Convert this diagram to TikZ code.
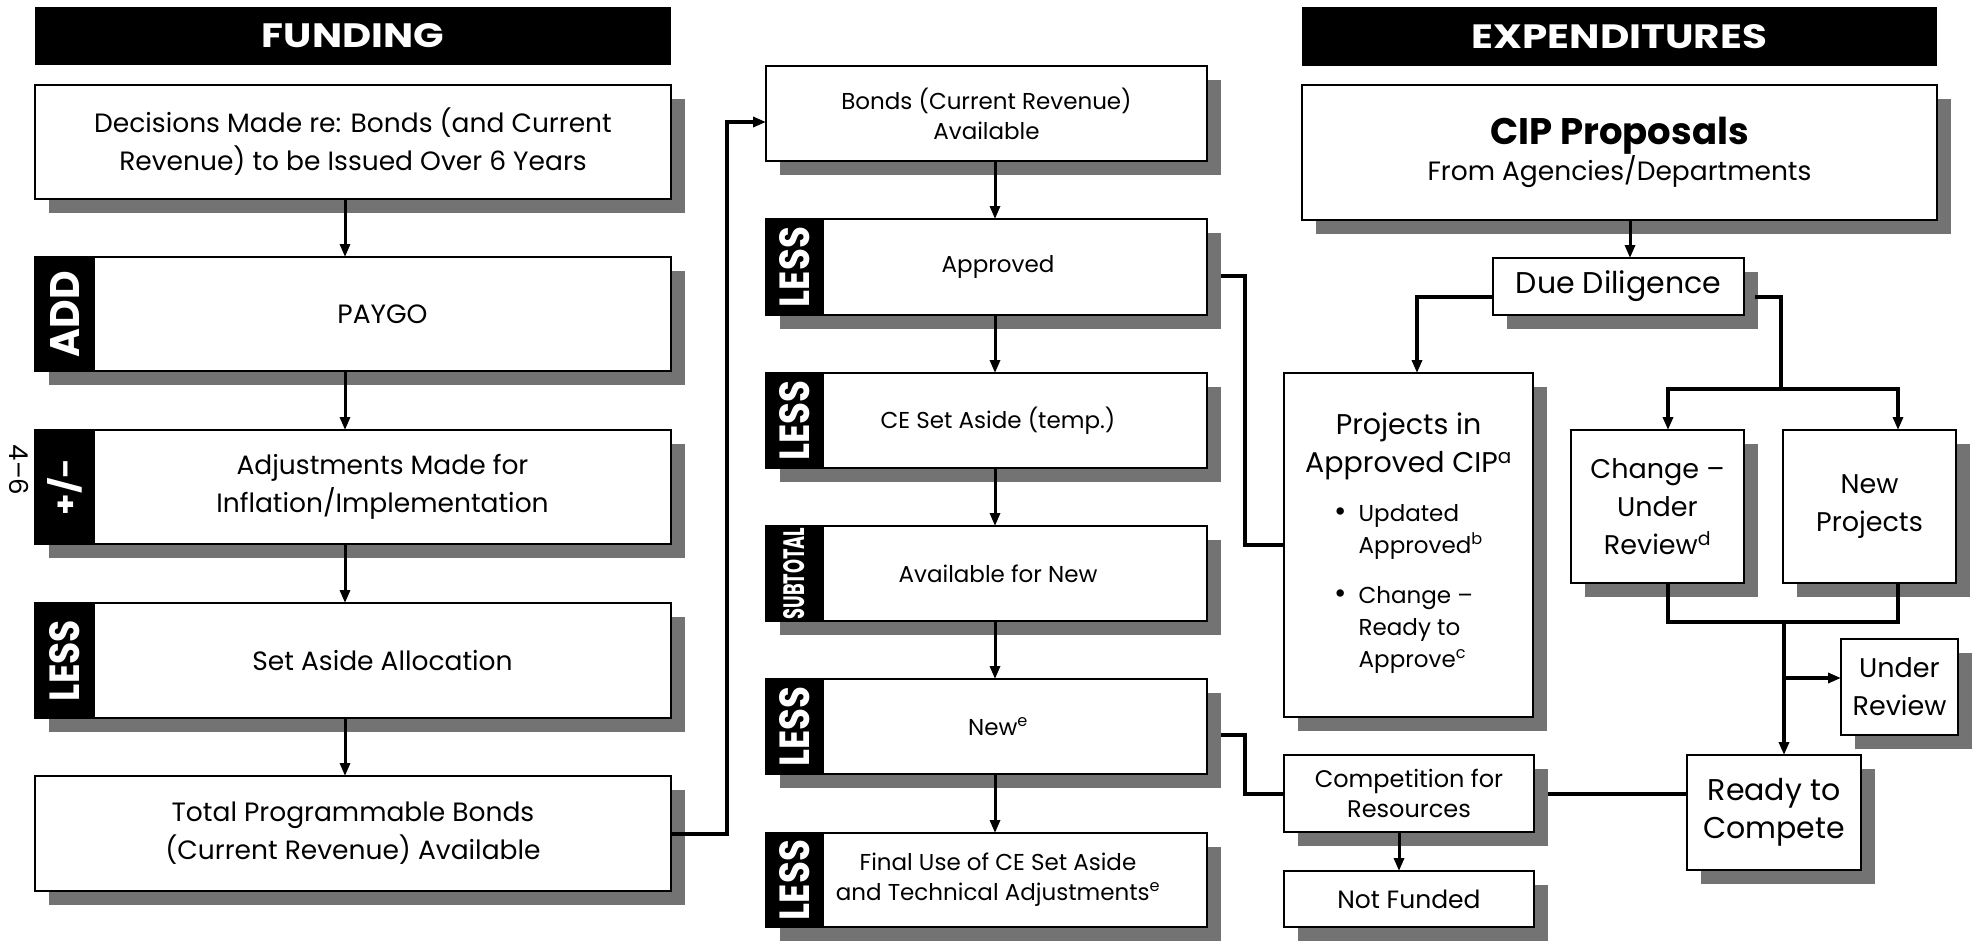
\documentclass[tikz,border=0pt]{standalone}
\usepackage{fontspec}
\setmainfont{Poppins}
\usetikzlibrary{arrows.meta,shadows,calc}
\newcommand\placebox[6][]{\node[#1,minimum width={#4-#2},minimum height={#5-#3}] (#6) at ({(#2+#4)/2},{(#3+#5)/2})}
\newcommand\shl{\hspace*{-34pt}}
\begin{document}
\begin{tikzpicture}[x=1pt,y=-1pt,
  every node/.style={inner sep=0pt,outer sep=0pt},
  sh/.style={general shadow={fill=black!55,shadow xshift=14pt,shadow yshift=-14pt}},
  box/.style={draw=black,line width=1.8pt,fill=white,sh,align=center},
  tabbox/.style={draw=black,line width=1.8pt,fill=black,sh,text=white},
  hdr/.style={fill=black,text=white},
  fL/.style={font=\fontsize{26.5}{38}\selectfont},
  fM/.style={font=\fontsize{23}{30}\selectfont},
  fR/.style={font=\fontsize{27}{38}\selectfont},
  fS/.style={font=\fontsize{24}{30}\selectfont},
  ln/.style={line width=3pt},
  thk/.style={line width=4pt},
  arr/.style={-{Triangle[length=13pt,width=10pt]}}
]
\useasboundingbox (0,0) rectangle (1975,940);
\fill[white] (0,0) rectangle (1975,940);

% ---------- headers
\placebox[hdr]{35}{7}{671}{65}{fundbar} {\resizebox{182pt}{24pt}{\bfseries FUNDING}};
\placebox[hdr]{1302}{7}{1937}{66}{expbar} {\resizebox{295pt}{24pt}{\bfseries EXPENDITURES}};

% ---------- left column
\placebox[box,fL]{35}{85}{671}{199}{dec} {Decisions Made re: Bonds (and Current\\Revenue) to be Issued Over 6 Years};
\placebox[tabbox]{35}{257}{94}{371}{tadd} {\rotatebox{90}{\resizebox{86pt}{29pt}{\bfseries ADD}}};
\placebox[box,fL]{94}{257}{671}{371}{paygo} {PAYGO};
\placebox[tabbox]{35}{430}{94}{544}{tpm} {\rotatebox{90}{\resizebox{57pt}{29pt}{\bfseries +/-}}};
\placebox[box,fL]{94}{430}{671}{544}{adj} {Adjustments Made for\\Inflation/Implementation};
\placebox[tabbox]{35}{603}{94}{718}{tless1} {\rotatebox{90}{\resizebox{81pt}{30pt}{\bfseries LESS}}};
\placebox[box,fL]{94}{603}{671}{718}{sa} {Set Aside Allocation};
\placebox[box,fL]{35}{776}{671}{891}{tot} {Total Programmable Bonds\\(Current Revenue) Available};

\node[rotate=-90,font=\fontsize{26}{26}\selectfont] (pnum) at (19,470) {4–6};

% ---------- middle column
\placebox[box,fM]{766}{66}{1207}{161}{bonds} {Bonds (Current Revenue)\\Available};
\placebox[tabbox]{766}{219}{823}{315}{tless2} {\rotatebox{90}{\resizebox{80pt}{30pt}{\bfseries LESS}}};
\placebox[box,fM]{823}{219}{1207}{315}{appr} {\shl Approved};
\placebox[tabbox]{766}{373}{823}{468}{tless3} {\rotatebox{90}{\resizebox{80pt}{30pt}{\bfseries LESS}}};
\placebox[box,fM]{823}{373}{1207}{468}{ce} {\shl CE Set Aside (temp.)};
\placebox[tabbox]{766}{526}{823}{621}{tsub} {\rotatebox{90}{\resizebox{92pt}{21pt}{\bfseries SUBTOTAL}}};
\placebox[box,fM]{823}{526}{1207}{621}{avn} {\shl Available for New};
\placebox[tabbox]{766}{679}{823}{774}{tless4} {\rotatebox{90}{\resizebox{80pt}{30pt}{\bfseries LESS}}};
\placebox[box,fM]{823}{679}{1207}{774}{new} {\shl New\textsuperscript{e}};
\placebox[tabbox]{766}{833}{823}{927}{tless5} {\rotatebox{90}{\resizebox{80pt}{30pt}{\bfseries LESS}}};
\placebox[box,fM]{823}{833}{1207}{927}{fin} {\shl Final Use of CE Set Aside\\\shl and Technical Adjustments\textsuperscript{e}};

% ---------- right column
\placebox[box]{1302}{85}{1937}{220}{cip} {{\bfseries\fontsize{37}{42}\selectfont CIP Proposals}\\[0pt]{\fontsize{26.5}{36}\selectfont From Agencies/Departments}};
\placebox[box,font=\fontsize{30}{36}\selectfont]{1493}{258}{1744}{315}{due} {Due Diligence};
\placebox[box,font=\fontsize{28.5}{38}\selectfont]{1284}{373}{1533}{717}{proj} {Projects in\\Approved CIP\textsuperscript{a}\\[18pt]
  {\fontsize{23}{32}\selectfont\begin{tabular}{@{}l@{\hspace{12pt}}l@{}}{\fontsize{30}{32}\selectfont\textbullet}&Updated\\&Approved\textsuperscript{b}\\[18pt]{\fontsize{30}{32}\selectfont\textbullet}&Change –\\&Ready to\\&Approve\textsuperscript{c}\end{tabular}}};
\placebox[box,fR]{1571}{430}{1744}{583}{chg} {Change –\\Under\\Review\textsuperscript{d}};
\placebox[box,fR]{1783}{430}{1956}{583}{newp} {New\\Projects};
\placebox[box,fR]{1841}{639}{1958}{735}{ur} {Under\\Review};
\placebox[box,font=\fontsize{30}{38}\selectfont]{1687}{755}{1861}{870}{rtc} {Ready to\\Compete};
\placebox[box,fS]{1284}{755}{1534}{832}{comp} {Competition for\\Resources};
\placebox[box,font=\fontsize{25}{30}\selectfont]{1284}{871}{1534}{927}{nf} {Not Funded};

% ---------- helper coordinates
\coordinate (cL) at (345,0);
\coordinate (cM) at (995,0);
\coordinate (j1) at (727,122);
\coordinate (xa) at (1245,0);
\coordinate (cn) at (1399,0);
\coordinate (cc) at (1630,0);
\coordinate (cp) at (1417,0);
\coordinate (sp) at (1781,389);
\coordinate (c1) at (1668,0);
\coordinate (c2) at (1898,0);
\coordinate (mg) at (1784,622);
\coordinate (br) at (1784,678);
\coordinate (aout) at ([xshift=14pt,yshift=-9pt]appr.east);
\coordinate (nout) at ([xshift=14pt,yshift=-8pt]new.east);
\coordinate (dl) at ([yshift=-10pt]due.west);
\coordinate (dr) at ([xshift=11pt,yshift=-10pt]due.east);

% ---------- left connectors
\draw[ln,arr] (dec.south -| cL) -- (paygo.north -| cL);
\draw[ln,arr] (paygo.south -| cL) -- (adj.north -| cL);
\draw[ln,arr] (adj.south -| cL) -- (sa.north -| cL);
\draw[ln,arr] (sa.south -| cL) -- (tot.north -| cL);
\draw[thk,arr] (tot.east) -| (j1) -- (bonds.west |- j1);

% ---------- middle connectors
\draw[ln,arr] (bonds.south -| cM) -- (appr.north -| cM);
\draw[ln,arr] (appr.south -| cM) -- (ce.north -| cM);
\draw[ln,arr] (ce.south -| cM) -- (avn.north -| cM);
\draw[ln,arr] (avn.south -| cM) -- (new.north -| cM);
\draw[ln,arr] (new.south -| cM) -- (fin.north -| cM);
\draw[thk] (proj.west) -| (xa |- aout) -- (aout);
\draw[thk] (nout) -| (xa |- comp.west) -- (comp.west);

% ---------- right connectors
\draw[ln,arr] (cip.south -| cc) -- (due.north -| cc);
\draw[thk,arr] (dl) -| (proj.north -| cp);
\draw[thk] (dr) -| (sp);
\draw[thk,arr] (sp) -| (chg.north -| c1);
\draw[thk,arr] (sp) -| (newp.north -| c2);
\draw[thk] (chg.south -| c1) |- (mg) -| (newp.south -| c2);
\draw[thk,arr] (mg) -- (rtc.north -| mg);
\draw[thk,arr] (br) -- (ur.west |- br);
\draw[thk] (rtc.west |- comp.east) -- ([xshift=14pt]comp.east);
\draw[ln,arr] (comp.south -| cn) -- (nf.north -| cn);
\end{tikzpicture}
\end{document}
